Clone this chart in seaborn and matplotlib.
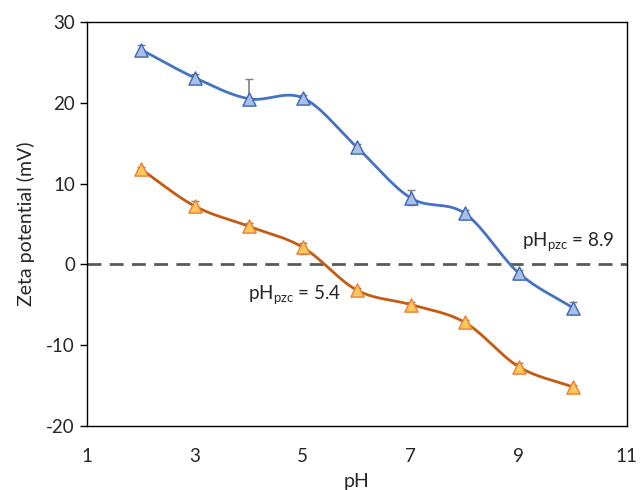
import matplotlib
matplotlib.use("Agg")
import matplotlib.pyplot as plt
import numpy as np
import pandas as pd
import seaborn as sns

# values
ph = [2, 3, 4, 5, 6, 7, 8, 9, 10]
zeta_a = [26.6, 23.1, 20.5, 20.6, 14.5, 8.2, 6.3, -1.1, -5.4]
err_a_lo = [0.7, 0.7, 0.8, 0.7, 0.6, 0.8, 0.7, 0.7, 0.8]
err_a_hi = [0.5, 0.5, 2.5, 0.4, 0.4, 1.0, 0.4, 0.4, 0.7]
zeta_b = [11.8, 7.2, 4.7, 2.1, -3.2, -5.0, -7.2, -12.7, -15.2]
err_b_lo = [0.5, 0.6, 0.6, 0.8, 0.6, 0.5, 0.6, 0.6, 0.5]
err_b_hi = [0.3, 0.6, 0.4, 0.5, 0.3, 0.3, 0.3, 0.5, 0.3]

sns.set_style("white")
plt.rcParams['font.family'] = ['Lato', 'DejaVu Sans']
plt.rcParams['axes.unicode_minus'] = False


def smooth(x, y, n=30):
    # Excel-like smoothed line (Catmull-Rom) drawn through the points
    x = np.asarray(x, float)
    y = np.asarray(y, float)
    px = np.concatenate([[2 * x[0] - x[1]], x, [2 * x[-1] - x[-2]]])
    py = np.concatenate([[2 * y[0] - y[1]], y, [2 * y[-1] - y[-2]]])
    xs, ys = [], []
    t = np.linspace(0, 1, n)
    for i in range(1, len(px) - 2):
        for p, out in ((px, xs), (py, ys)):
            p0, p1, p2, p3 = p[i - 1], p[i], p[i + 1], p[i + 2]
            out.extend(0.5 * (2 * p1 + (-p0 + p2) * t
                              + (2 * p0 - 5 * p1 + 4 * p2 - p3) * t ** 2
                              + (-p0 + 3 * p1 - 3 * p2 + p3) * t ** 3))
    return np.array(xs), np.array(ys)


fig = plt.figure(figsize=(6.43, 4.90), dpi=100)
ax = fig.add_axes([0.135, 0.131, 0.84, 0.824])

ax.axhline(0, color="#595959", lw=2, ls=(0, (5, 3)), zorder=1)

series = [
    (zeta_a, err_a_lo, err_a_hi, "#4472C4", "#A9C0E6", "#3A66B5"),
    (zeta_b, err_b_lo, err_b_hi, "#C55A11", "#FFC85C", "#ED7D31"),
]
for z, lo, hi, lc, fc, ec in series:
    sx, sy = smooth(ph, z)
    sns.lineplot(x=sx, y=sy, ax=ax, color=lc, lw=2, sort=False, zorder=2)
    ax.errorbar(ph, z, yerr=[lo, hi], fmt="none", ecolor="#7F7F7F",
                elinewidth=1.2, capsize=3, zorder=3)
    sns.scatterplot(x=ph, y=z, ax=ax, marker="^", s=90, color=fc,
                    edgecolor=ec, linewidth=1.0, zorder=4)

ax.text(9.05, 2.7, r"pH$_{\mathregular{pzc}}$ = 8.9", fontsize=13.5, va="center")
ax.text(3.98, -3.8, r"pH$_{\mathregular{pzc}}$ = 5.4", fontsize=13.5, va="center")

ax.set_xlim(1, 11)
ax.set_ylim(-20, 30)
ax.set_xticks([1, 3, 5, 7, 9, 11])
ax.set_yticks([-20, -10, 0, 10, 20, 30])
ax.tick_params(axis="x", length=0, labelsize=13.5, pad=16)
ax.tick_params(axis="y", length=5, width=1, color="#000000", labelsize=13.5,
               direction="out", left=True)
for s in ax.spines.values():
    s.set_color("#000000")
    s.set_linewidth(1)
ax.set_xlabel("pH", fontsize=14, labelpad=6)
ax.set_ylabel("Zeta potential (mV)", fontsize=14, labelpad=8)

fig.savefig("out.png", dpi=100)
